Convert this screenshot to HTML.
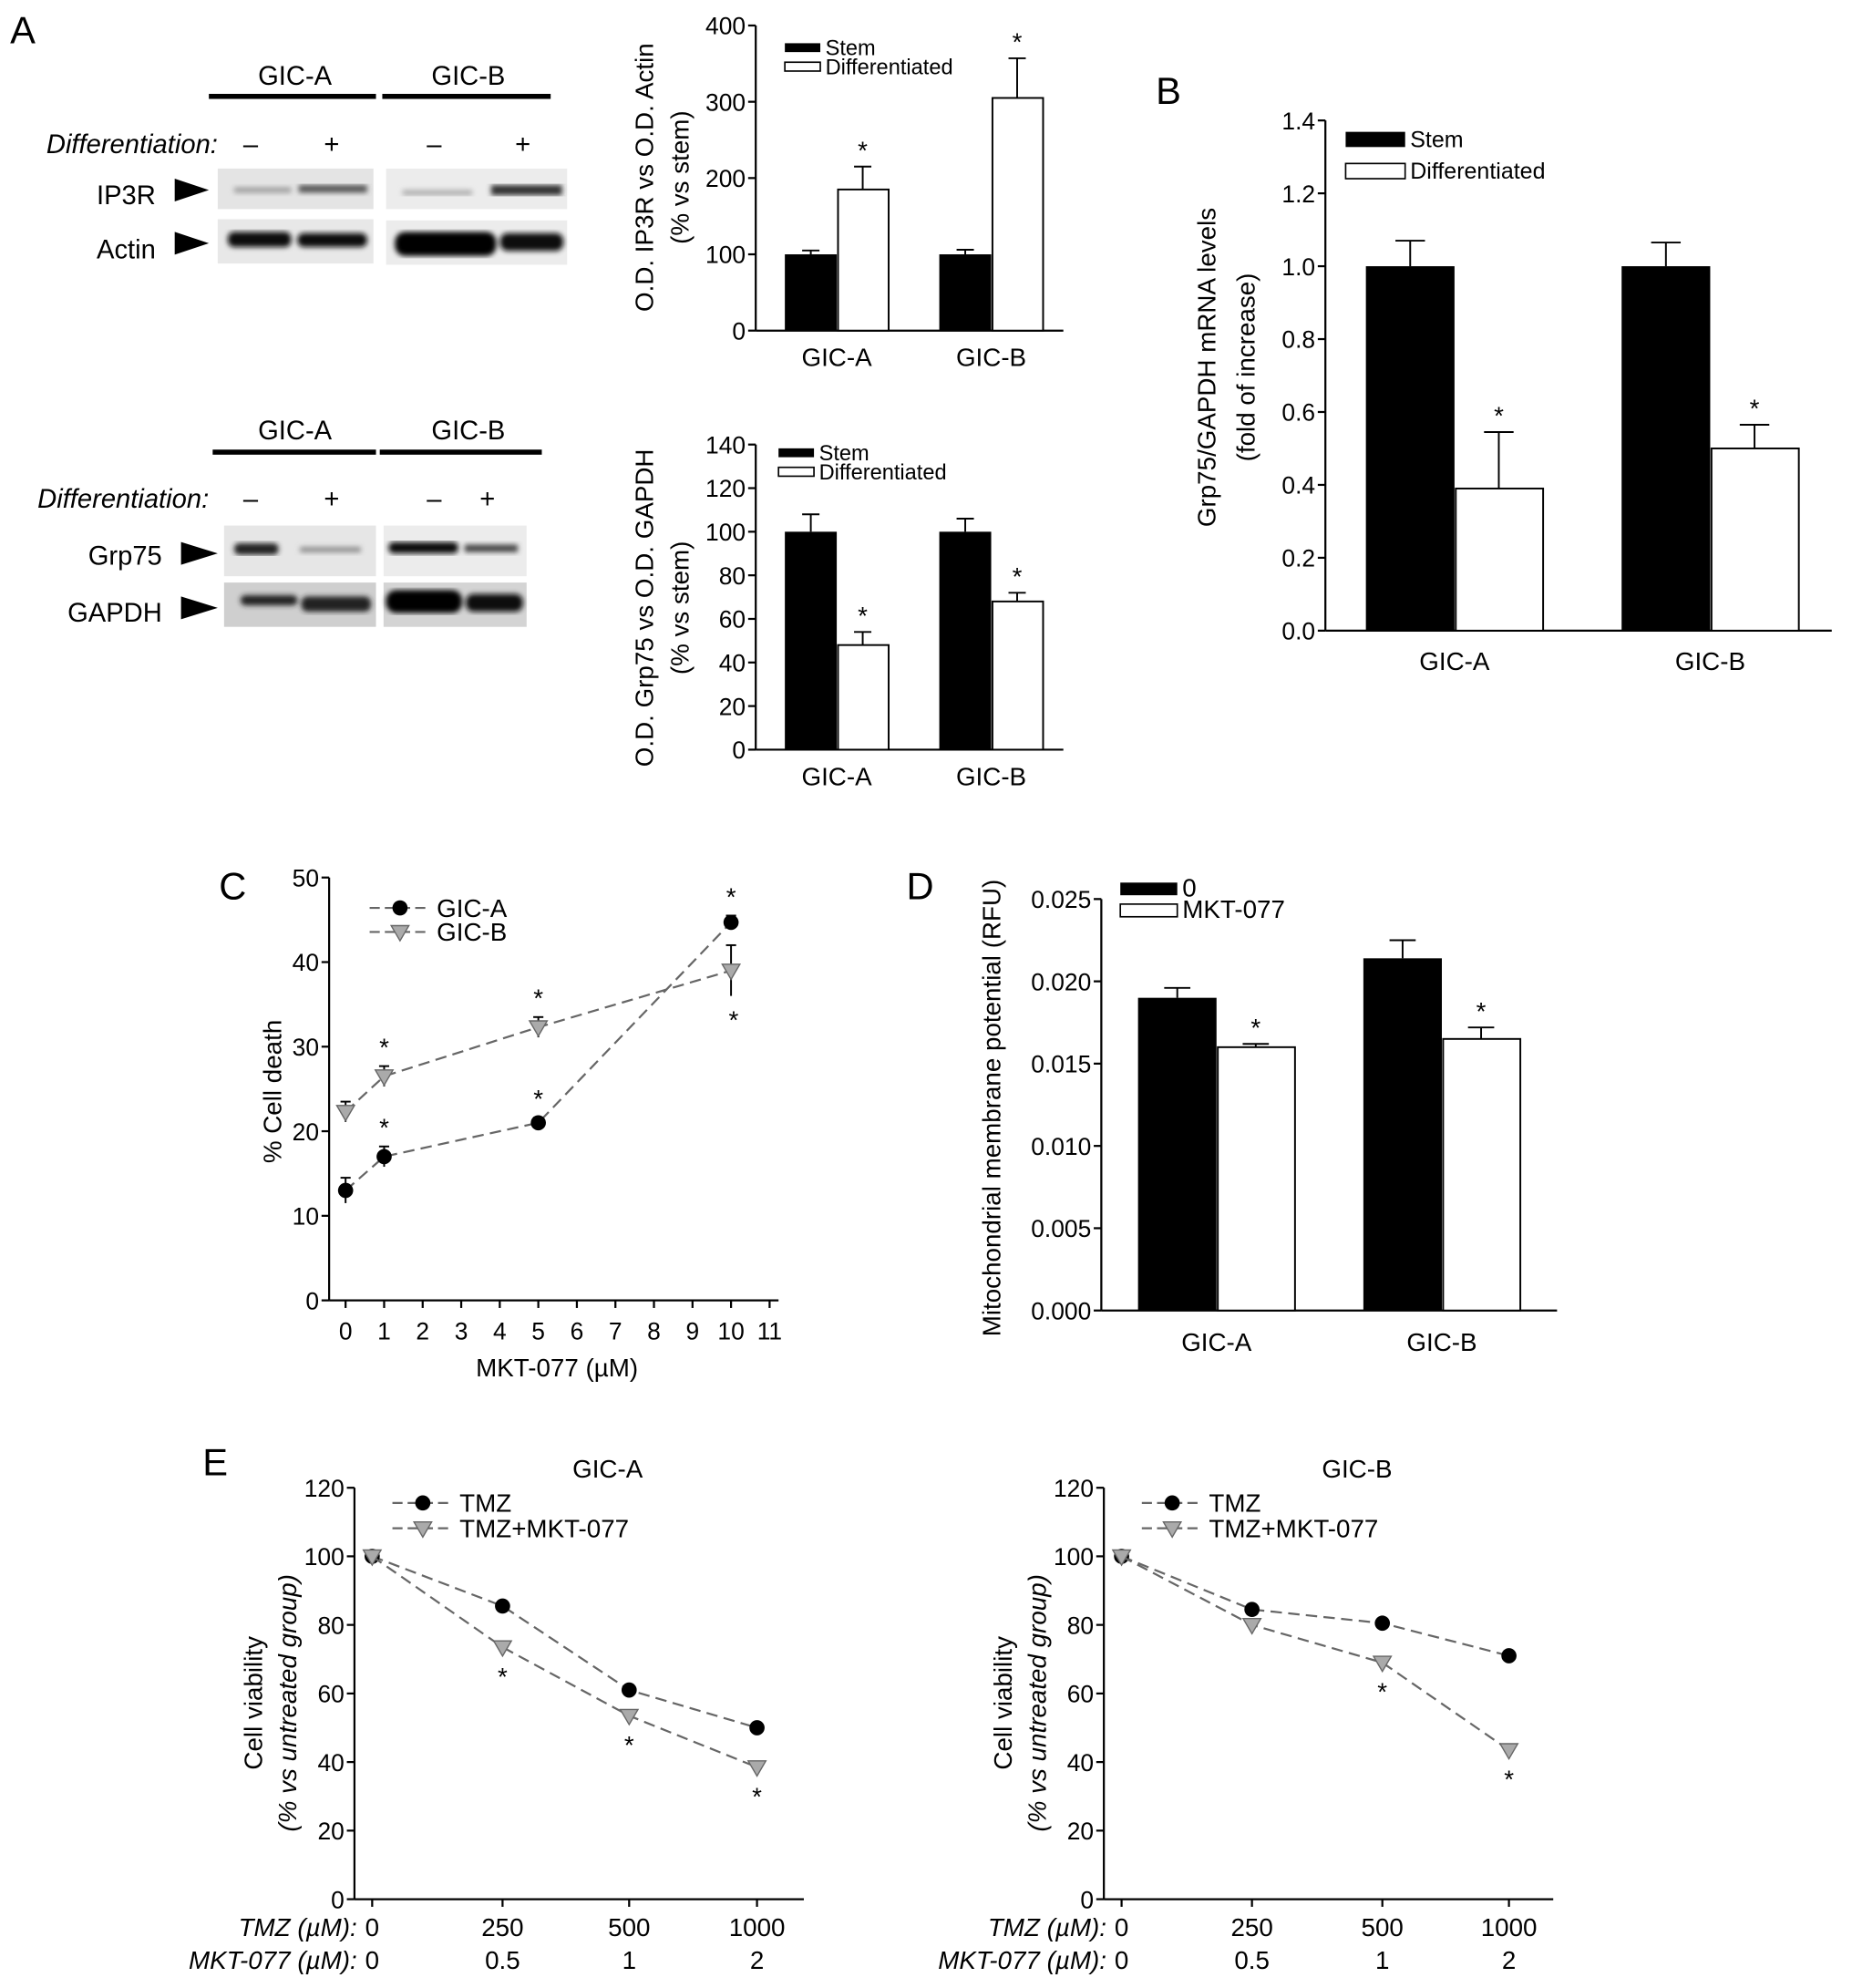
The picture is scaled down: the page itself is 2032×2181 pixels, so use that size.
<!DOCTYPE html>
<html><head><meta charset="utf-8"><style>
html,body{margin:0;padding:0;background:#fff;}
svg{display:block;font-family:"Liberation Sans",Arial,sans-serif;}
</style></head><body>
<svg id="fig" xmlns="http://www.w3.org/2000/svg" width="2032" height="2181" viewBox="0 0 1463 1570">
<defs>
<filter id="blur1"><feGaussianBlur stdDeviation="2.2"/></filter>
</defs>
<g id="blots">
<text x="8" y="34" font-size="30">A</text>
<text x="233" y="67" font-size="21" text-anchor="middle">GIC-A</text>
<rect x="165" y="74" width="132" height="4" fill="#000"/>
<text x="370" y="67" font-size="21" text-anchor="middle">GIC-B</text>
<rect x="302" y="74" width="133" height="4" fill="#000"/>
<text x="172" y="121" font-size="21" font-style="italic" text-anchor="end">Differentiation:</text>
<text x="198" y="121" font-size="21" text-anchor="middle">–</text><text x="262" y="121" font-size="21" text-anchor="middle">+</text>
<text x="343" y="121" font-size="21" text-anchor="middle">–</text><text x="413" y="121" font-size="21" text-anchor="middle">+</text>
<text x="123" y="161" font-size="21" text-anchor="end">IP3R</text>
<polygon points="138,141 165,150 138,159" fill="#000"/>
<rect x="172" y="133" width="123" height="32" fill="#e4e4e4"/><rect x="305" y="133" width="143" height="32" fill="#ececec"/>
<g filter="url(#blur1)"><rect x="185" y="148" width="45" height="4" fill="#999"/><rect x="236" y="146" width="54" height="6" fill="#555"/><rect x="318" y="150" width="55" height="4" fill="#aaa"/><rect x="388" y="146" width="56" height="8" fill="#333"/></g>
<text x="123" y="204" font-size="21" text-anchor="end">Actin</text>
<polygon points="138,183 165,192 138,201" fill="#000"/>
<rect x="172" y="173" width="123" height="35" fill="#e8e8e8"/><rect x="305" y="174" width="143" height="35" fill="#ececec"/>
<g filter="url(#blur1)"><rect x="180" y="183" width="50" height="12" rx="5" fill="#111"/><rect x="235" y="184" width="55" height="11" rx="5" fill="#111"/><rect x="312" y="183" width="80" height="19" rx="8" fill="#000"/><rect x="395" y="184" width="50" height="14" rx="6" fill="#111"/></g>

<text x="233" y="347" font-size="21" text-anchor="middle">GIC-A</text>
<rect x="168" y="355" width="129" height="4" fill="#000"/>
<text x="370" y="347" font-size="21" text-anchor="middle">GIC-B</text>
<rect x="300" y="355" width="128" height="4" fill="#000"/>
<text x="165" y="401" font-size="21" font-style="italic" text-anchor="end">Differentiation:</text>
<text x="198" y="401" font-size="21" text-anchor="middle">–</text><text x="262" y="401" font-size="21" text-anchor="middle">+</text>
<text x="343" y="401" font-size="21" text-anchor="middle">–</text><text x="385" y="401" font-size="21" text-anchor="middle">+</text>
<text x="128" y="446" font-size="21" text-anchor="end">Grp75</text>
<polygon points="143,428 172,437 143,446" fill="#000"/>
<rect x="177" y="415" width="120" height="40" fill="#e6e6e6"/><rect x="303" y="415" width="113" height="40" fill="#ececec"/>
<g filter="url(#blur1)"><rect x="185" y="429" width="35" height="9" rx="4" fill="#222"/><rect x="237" y="432" width="48" height="4" fill="#888"/><rect x="307" y="428" width="55" height="9" rx="4" fill="#111"/><rect x="367" y="430" width="42" height="6" fill="#444"/></g>
<text x="128" y="491" font-size="21" text-anchor="end">GAPDH</text>
<polygon points="143,471 172,480 143,489" fill="#000"/>
<rect x="177" y="460" width="120" height="35" fill="#cfcfcf"/><rect x="303" y="460" width="113" height="35" fill="#d4d4d4"/>
<g filter="url(#blur1)"><rect x="190" y="470" width="45" height="8" rx="4" fill="#222"/><rect x="238" y="471" width="55" height="12" rx="5" fill="#222"/><rect x="305" y="466" width="60" height="18" rx="8" fill="#000"/><rect x="368" y="469" width="45" height="14" rx="6" fill="#111"/></g>
</g>
<g id="charts"></g>
<text x="913" y="82" font-size="30">B</text>
<text x="173" y="710" font-size="30">C</text>
<text x="716" y="710" font-size="30">D</text>
<text x="160" y="1165" font-size="30">E</text>
</svg>
<script>
// ---- data ----
const groups = ['GIC-A', 'GIC-B'];
const ip3rStem = [100, 100];
const ip3rStemErr = [5, 6];
const ip3rDiff = [185, 305];
const ip3rDiffErr = [30, 52];
const ip3rTicks = [0, 100, 200, 300, 400];
const grpStem = [100, 100];
const grpStemErr = [8, 6];
const grpDiff = [48, 68];
const grpDiffErr = [6, 4];
const grpTicks = [0, 20, 40, 60, 80, 100, 120, 140];
const mrnaStem = [1.0, 1.0];
const mrnaStemErr = [0.07, 0.065];
const mrnaDiff = [0.39, 0.5];
const mrnaDiffErr = [0.155, 0.065];
const mrnaTicks = [0.0, 0.2, 0.4, 0.6, 0.8, 1.0, 1.2, 1.4];
const mmpCtrl = [0.019, 0.0214];
const mmpCtrlErr = [0.0006, 0.0011];
const mmpMkt = [0.016, 0.0165];
const mmpMktErr = [0.0002, 0.0007];
const mmpTicks = [0.000, 0.005, 0.010, 0.015, 0.020, 0.025];
const doseC = [0, 1, 5, 10];
const deathA = [13, 17, 21, 44.7];
const deathAErr = [1.5, 1.2, 0.6, 0.8];
const deathB = [22.3, 26.5, 32.3, 39];
const deathBErr = [1.2, 1.2, 1.2, 3];
const cTicksX = [0,1,2,3,4,5,6,7,8,9,10,11];
const cTicksY = [0,10,20,30,40,50];
const tmzLabels = ['0', '250', '500', '1000'];
const mktLabels = ['0', '0.5', '1', '2'];
const viaTmzA = [100, 85.5, 61, 50];
const viaComboA = [100, 73.5, 53.5, 38.5];
const viaTmzB = [100, 84.5, 80.5, 71];
const viaComboB = [100, 80, 69, 43.5];
const viaTicks = [0, 20, 40, 60, 80, 100, 120];

const NS = 'http://www.w3.org/2000/svg';
const root = document.getElementById('charts');
function mk(tag, a, p) { const e = document.createElementNS(NS, tag); for (const k in a) e.setAttribute(k, a[k]); (p || root).appendChild(e); return e; }
function txt(s, a, p) { const e = mk('text', a, p); e.textContent = s; return e; }
function fmt(v, d) { return v.toFixed(d); }

function yAxis(g, x, y0, y1, ticks, vmax, dec, fs) {
  const sy = v => y0 - (v / vmax) * (y0 - y1);
  mk('line', {x1: x, y1: y0, x2: x, y2: y1, stroke: '#000', 'stroke-width': 1.6}, g);
  ticks.forEach(t => {
    mk('line', {x1: x - 6, y1: sy(t), x2: x, y2: sy(t), stroke: '#000', 'stroke-width': 1.6}, g);
    const l = txt(fmt(t, dec), {x: x - 8, y: sy(t) + 7, 'font-size': fs, 'text-anchor': 'end'}, g);
    
    
  });
  return sy;
}
function errBar(g, x, yTop, yErr, w) {
  mk('line', {x1: x, y1: yTop, x2: x, y2: yErr, stroke: '#000', 'stroke-width': 1.4}, g);
  mk('line', {x1: x - w, y1: yErr, x2: x + w, y2: yErr, stroke: '#000', 'stroke-width': 1.4}, g);
}

function barChart(o) {
  const g = mk('g', {});
  
  
  const sy = yAxis(g, o.ax, o.y0, o.y1, o.ticks, o.vmax, o.dec, o.fs);
  mk('line', {x1: o.ax, y1: o.y0, x2: o.ax2, y2: o.y0, stroke: '#000', 'stroke-width': 1.6}, g);
  groups.forEach((gn, i) => {
    const cx = o.gx[i];
    const b1 = mk('rect', {x: cx - o.bw, y: sy(o.s1[i]), width: o.bw, height: o.y0 - sy(o.s1[i]), fill: '#000'}, g);
    
    
    errBar(g, cx - o.bw / 2, sy(o.s1[i]), sy(o.s1[i] + o.e1[i]), o.bw / 6);
    errBar(g, cx + o.bw / 2, sy(o.s2[i]), sy(o.s2[i] + o.e2[i]), o.bw / 6);
    const b2 = mk('rect', {x: cx + 1, y: sy(o.s2[i]), width: o.bw - 1, height: o.y0 - sy(o.s2[i]), fill: '#fff', stroke: '#000', 'stroke-width': 1.4}, g);
    
    
    const st = txt('*', {x: cx + o.bw / 2, y: sy(o.s2[i] + o.e2[i]) - 6, 'font-size': 20, 'text-anchor': 'middle'}, g);
    
    
    const xl = txt(gn, {x: cx, y: o.y0 + o.xlOff, 'font-size': o.fs + 1, 'text-anchor': 'middle'}, g);
    
    
  });
  o.titles.forEach((t, j) => {
    const tt = txt(t, {x: 0, y: 0, 'font-size': o.fs + 1, 'text-anchor': 'middle', transform: 'translate(' + o.tx[j] + ',' + o.tcy + ') rotate(-90)'}, g);
    
    
  });
  const lg = mk('g', {}, g);
  
  
  mk('rect', {x: o.lx, y: o.ly, width: o.lw, height: o.lh, fill: '#000'}, lg);
  txt(o.l1, {x: o.lx + o.lw + 4, y: o.ly + o.lh / 2 + 6, 'font-size': o.lfs}, lg);
  mk('rect', {x: o.lx, y: o.ly + o.lgap, width: o.lw, height: o.lh, fill: '#fff', stroke: '#000', 'stroke-width': 1.2}, lg);
  txt(o.l2, {x: o.lx + o.lw + 4, y: o.ly + o.lgap + o.lh / 2 + 6, 'font-size': o.lfs}, lg);
}

barChart({name: 'ip3r-bar-chart', ax: 597, ax2: 840, y0: 261, y1: 20, vmax: 400, ticks: ip3rTicks, dec: 0, fs: 19,
  gx: [661, 783], bw: 41, s1: ip3rStem, e1: ip3rStemErr, s2: ip3rDiff, e2: ip3rDiffErr, k1: 'stem', k2: 'differentiated', xlOff: 28,
  titles: ['O.D. IP3R vs O.D. Actin', '(% vs stem)'], tx: [516, 544], tcy: 140,
  lx: 620, ly: 34, lw: 28, lh: 7, lgap: 15, l1: 'Stem', l2: 'Differentiated', lfs: 17});
barChart({name: 'grp75-bar-chart', ax: 597, ax2: 840, y0: 592, y1: 351, vmax: 140, ticks: grpTicks, dec: 0, fs: 19,
  gx: [661, 783], bw: 41, s1: grpStem, e1: grpStemErr, s2: grpDiff, e2: grpDiffErr, k1: 'stem', k2: 'differentiated', xlOff: 28,
  titles: ['O.D. Grp75 vs O.D. GAPDH', '(% vs stem)'], tx: [516, 544], tcy: 480,
  lx: 615, ly: 354, lw: 28, lh: 7, lgap: 15, l1: 'Stem', l2: 'Differentiated', lfs: 17});
barChart({name: 'mrna-bar-chart', ax: 1047, ax2: 1447, y0: 498, y1: 95, vmax: 1.4, ticks: mrnaTicks, dec: 1, fs: 19,
  gx: [1149, 1351], bw: 70, s1: mrnaStem, e1: mrnaStemErr, s2: mrnaDiff, e2: mrnaDiffErr, k1: 'stem', k2: 'differentiated', xlOff: 31,
  titles: ['Grp75/GAPDH mRNA levels', '(fold of increase)'], tx: [960, 991], tcy: 290,
  lx: 1063, ly: 104, lw: 47, lh: 12, lgap: 25, l1: 'Stem', l2: 'Differentiated', lfs: 18});
barChart({name: 'mmp-bar-chart', ax: 870, ax2: 1230, y0: 1035, y1: 710, vmax: 0.025, ticks: mmpTicks, dec: 3, fs: 19,
  gx: [961, 1139], bw: 62, s1: mmpCtrl, e1: mmpCtrlErr, s2: mmpMkt, e2: mmpMktErr, k1: 'control', k2: 'mkt077', xlOff: 32,
  titles: ['Mitochondrial membrane potential (RFU)'], tx: [790], tcy: 875,
  lx: 885, ly: 697, lw: 45, lh: 10, lgap: 17, l1: '0', l2: 'MKT-077', lfs: 20});

function marker(g, shape, x, y, nm) {
  let m;
  if (shape === 'c') m = mk('circle', {cx: x, cy: y, r: 6, fill: '#000'}, g);
  else m = mk('polygon', {points: (x - 7) + ',' + (y - 5) + ' ' + (x + 7) + ',' + (y - 5) + ' ' + x + ',' + (y + 7), fill: '#aaa', stroke: '#666', 'stroke-width': 1}, g);
  
  
}
function series(g, xs, ys, sy, shape, nm) {
  const pts = xs.map((x, i) => x + ',' + sy(ys[i])).join(' ');
  const l = mk('polyline', {points: pts, fill: 'none', stroke: '#666', 'stroke-width': 1.6, 'stroke-dasharray': '9,5'}, g);
  
  
  xs.forEach((x, i) => marker(g, shape, x, sy(ys[i]), nm + '-point'));
}
function legendLine(g, x, y, shape, label, fs) {
  mk('line', {x1: x, y1: y, x2: x + 48, y2: y, stroke: '#666', 'stroke-width': 1.6, 'stroke-dasharray': '8,4'}, g);
  marker(g, shape, x + 24, y, 'legend-marker');
  txt(label, {x: x + 53, y: y + 7, 'font-size': fs}, g);
}

// Chart C
(function () {
  const g = mk('g', {});
  
  
  const sy = yAxis(g, 260, 1027, 693, cTicksY, 50, 0, 19);
  const sx = v => 273 + v * 30.45;
  mk('line', {x1: 260, y1: 1027, x2: 615, y2: 1027, stroke: '#000', 'stroke-width': 1.6}, g);
  cTicksX.forEach(t => {
    mk('line', {x1: sx(t), y1: 1027, x2: sx(t), y2: 1033, stroke: '#000', 'stroke-width': 1.6}, g);
    const l = txt(String(t), {x: sx(t), y: 1058, 'font-size': 19, 'text-anchor': 'middle'}, g);
    
    
  });
  const xs = doseC.map(sx);
  doseC.forEach((d, i) => {
    errBar(g, sx(d), sy(deathA[i] - deathAErr[i]), sy(deathA[i] + deathAErr[i]), 4);
    errBar(g, sx(d), sy(deathB[i] - deathBErr[i]), sy(deathB[i] + deathBErr[i]), 4);
  });
  series(g, xs, deathA, sy, 'c', 'gic-a');
  series(g, xs, deathB, sy, 't', 'gic-b');
  [1, 2, 3].forEach(i => {
    txt('*', {x: xs[i], y: sy(deathA[i] + deathAErr[i]) - 8, 'font-size': 20, 'text-anchor': 'middle'}, g);
  });
  [1, 2].forEach(i => txt('*', {x: xs[i], y: sy(deathB[i] + deathBErr[i]) - 8, 'font-size': 20, 'text-anchor': 'middle'}, g));
  txt('*', {x: xs[3] + 2, y: sy(deathB[3] - deathBErr[3]) + 26, 'font-size': 20, 'text-anchor': 'middle'}, g);
  const xt = txt('MKT-077 (µM)', {x: 440, y: 1087, 'font-size': 20, 'text-anchor': 'middle'}, g);
  
  
  const yt = txt('% Cell death', {x: 0, y: 0, 'font-size': 20, 'text-anchor': 'middle', transform: 'translate(222,862) rotate(-90)'}, g);
  
  
  const lg = mk('g', {}, g);
  
  
  legendLine(lg, 292, 717, 'c', 'GIC-A', 20);
  legendLine(lg, 292, 736, 't', 'GIC-B', 20);
})();

// Charts E
function viaChart(name, title, ax, xs, tmz, combo, stars) {
  const g = mk('g', {});
  
  
  const sy = yAxis(g, ax, 1500, 1175, viaTicks, 120, 0, 19);
  mk('line', {x1: ax, y1: 1500, x2: ax + 355, y2: 1500, stroke: '#000', 'stroke-width': 1.6}, g);
  const tt = txt(title, {x: ax + 200, y: 1167, 'font-size': 20, 'text-anchor': 'middle'}, g);
  
  
  xs.forEach((x, i) => {
    mk('line', {x1: x, y1: 1500, x2: x, y2: 1506, stroke: '#000', 'stroke-width': 1.6}, g);
    const a = txt(tmzLabels[i], {x: x, y: 1529, 'font-size': 20, 'text-anchor': 'middle'}, g);
    
    
    const b = txt(mktLabels[i], {x: x, y: 1555, 'font-size': 20, 'text-anchor': 'middle'}, g);
    
    
  });
  txt('TMZ  (µM):', {x: ax + 2, y: 1529, 'font-size': 20, 'font-style': 'italic', 'text-anchor': 'end'}, g);
  txt('MKT-077 (µM):', {x: ax + 2, y: 1555, 'font-size': 20, 'font-style': 'italic', 'text-anchor': 'end'}, g);
  series(g, xs, tmz, sy, 'c', 'tmz');
  series(g, xs, combo, sy, 't', 'tmz-mkt077');
  stars.forEach(i => txt('*', {x: xs[i], y: sy(combo[i]) + 30, 'font-size': 20, 'text-anchor': 'middle'}, g));
  const t1 = txt('Cell viability', {x: 0, y: 0, 'font-size': 20, 'text-anchor': 'middle', transform: 'translate(' + (ax - 73) + ',1345) rotate(-90)'}, g);
  
  
  txt('(% vs untreated group)', {x: 0, y: 0, 'font-size': 20, 'font-style': 'italic', 'text-anchor': 'middle', transform: 'translate(' + (ax - 46) + ',1345) rotate(-90)'}, g);
  const lg = mk('g', {}, g);
  
  
  legendLine(lg, ax + 30, 1187, 'c', 'TMZ', 20);
  legendLine(lg, ax + 30, 1207, 't', 'TMZ+MKT-077', 20);
}
viaChart('viability-gic-a-chart', 'GIC-A', 280, [294, 397, 497, 598], viaTmzA, viaComboA, [1, 2, 3]);
viaChart('viability-gic-b-chart', 'GIC-B', 872, [886, 989, 1092, 1192], viaTmzB, viaComboB, [2, 3]);
</script>
</body></html>
